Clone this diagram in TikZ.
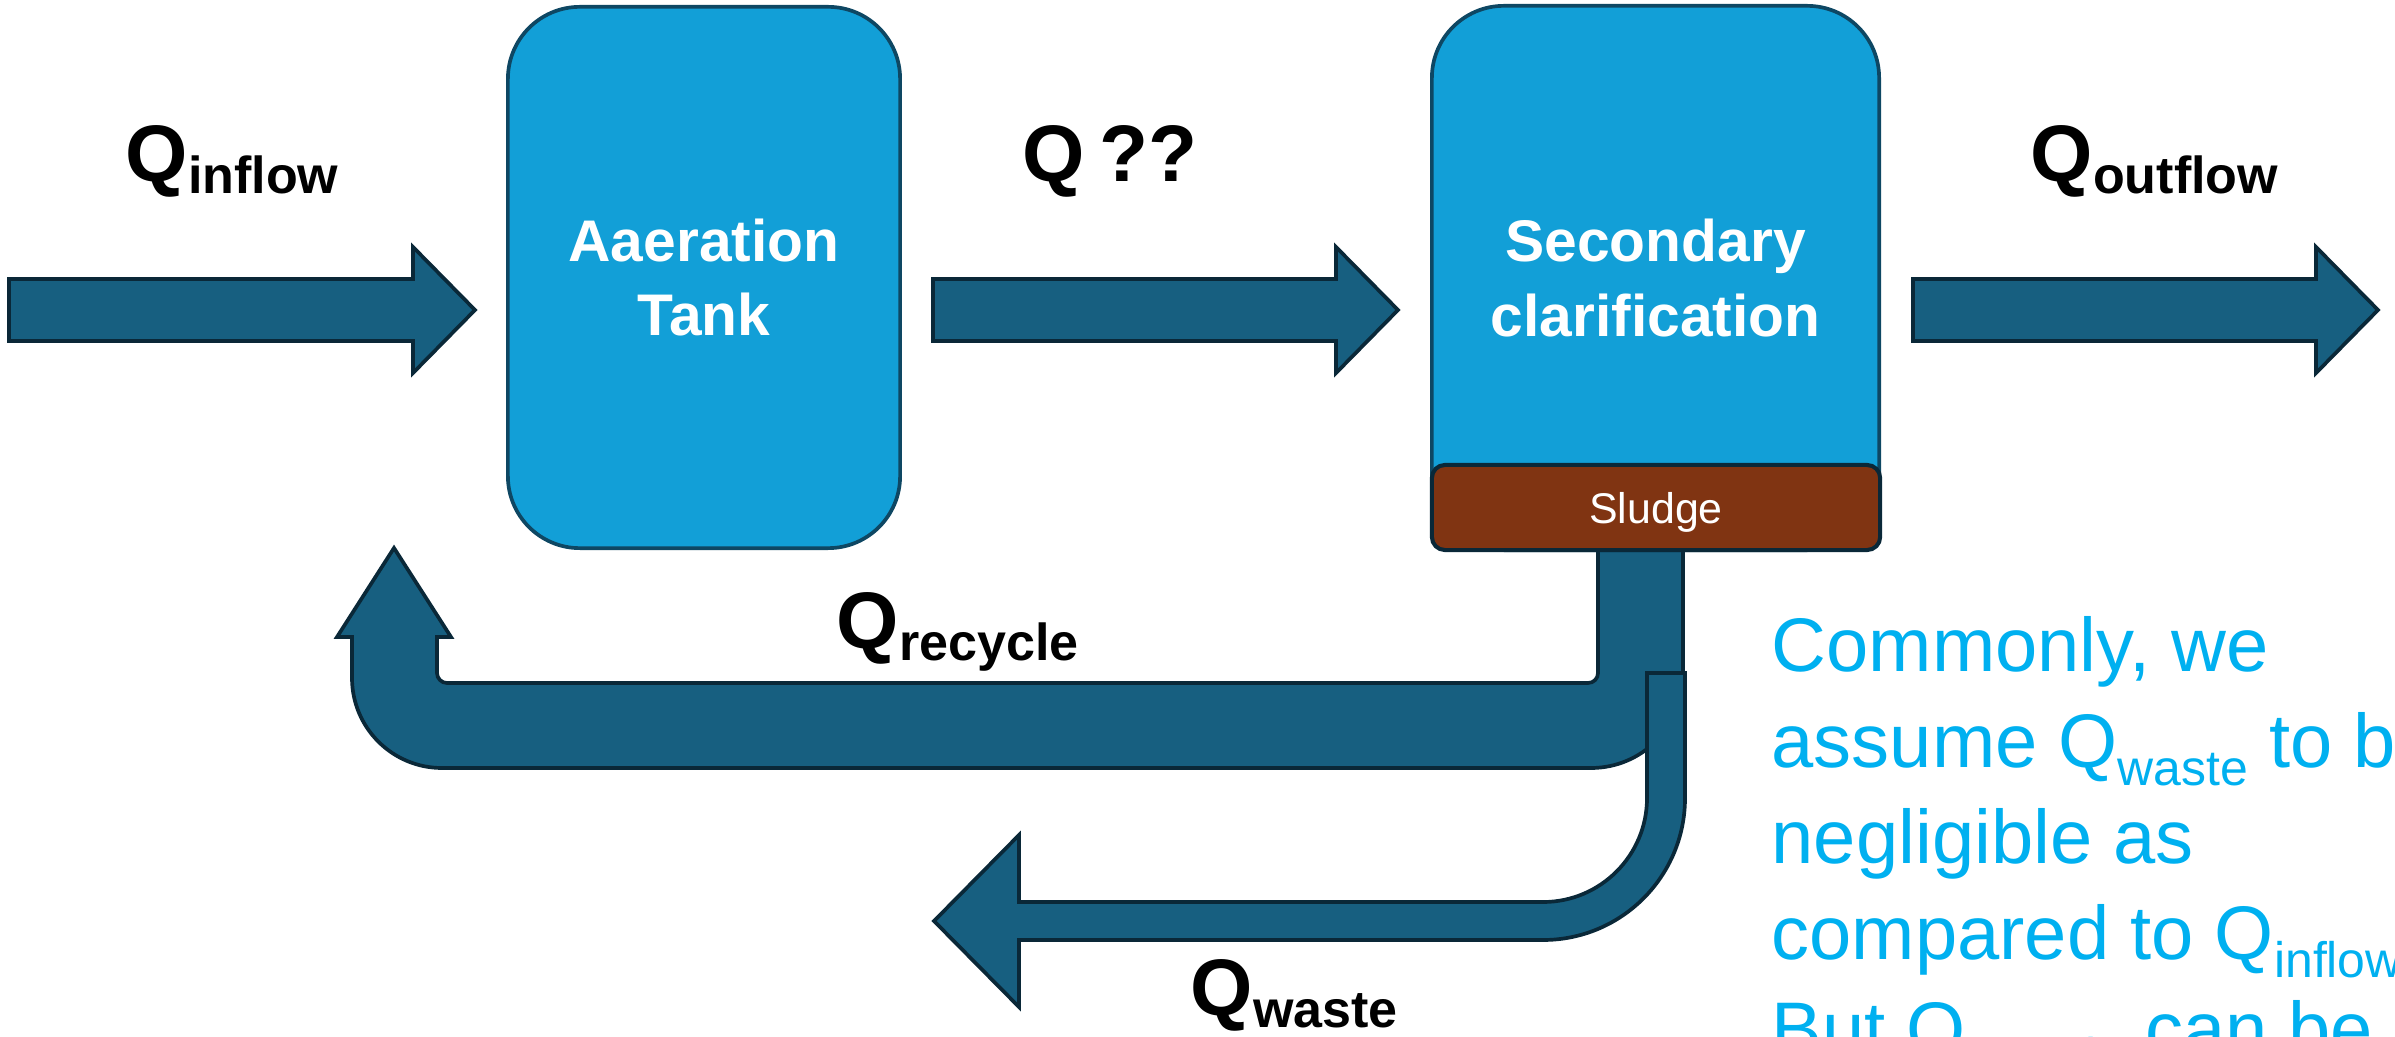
\documentclass[tikz,border=0pt]{standalone}
\usepackage{fontspec}
\setmainfont{Liberation Sans}
\definecolor{boxfill}{HTML}{129FD7}
\definecolor{boxline}{HTML}{0E4763}
\definecolor{arrfill}{HTML}{175F80}
\definecolor{arrline}{HTML}{0A2838}
\definecolor{sludgefill}{HTML}{803412}
\definecolor{notecol}{HTML}{00B0F0}
\newcommand\tkBoxFont{\fontsize{16.7}{21.3}\selectfont\bfseries}
\newcommand\tkSludgeFont{\fontsize{12.2}{14}\selectfont}
\newcommand\tkQFont{\fontsize{22.8}{27}\selectfont\bfseries}
\newcommand\tkNoteFont{\fontsize{21.6}{27}\selectfont}
\newcommand\tkQsub[1]{Q\raisebox{-0.12cm}{\fontsize{14.8}{17}\selectfont #1}}
\newcommand\tkNsub[1]{Q\raisebox{-0.18cm}{\fontsize{14.2}{17}\selectfont #1}}
\tikzset{
  tank/.style={draw=boxline, fill=boxfill, line width=1.05pt, rounded corners=0.72cm,
    text=white, align=center, font=\tkBoxFont, inner sep=0pt},
  sludgebox/.style={draw=arrline, fill=sludgefill, line width=1.15pt, rounded corners=0.13cm,
    text=white, font=\tkSludgeFont, inner sep=0pt, text depth=0pt},
  blockarrow/.style={draw=arrline, fill=arrfill, line width=1.05pt, line join=miter},
  qlabel/.style={anchor=base west, inner sep=0pt, font=\tkQFont},
  noteline/.style={anchor=base west, inner sep=0pt, text=notecol, font=\tkNoteFont},
}
\begin{document}
\begin{tikzpicture}[x=0.01cm,y=-0.01cm]
\useasboundingbox (0,0) rectangle (2395,1037);
\clip (0,0) rectangle (2395,1037);

% recycle U-turn arrow
\draw[blockarrow]
  (1683,540) -- (1683,676)
  .. controls (1683,726.8) and (1641.8,768) .. (1591,768)
  -- (442,768)
  .. controls (392.3,768) and (352,727.7) .. (352,678)
  -- (352,637) -- (337,637) -- (394,548) -- (451,637) -- (437,637)
  -- (437,673)
  .. controls (437,678.5) and (441.5,683) .. (447,683)
  -- (1588,683)
  .. controls (1593.5,683) and (1598,678.5) .. (1598,673)
  -- (1598,540) -- cycle;

% waste bent arrow
\draw[blockarrow]
  (1647,673) -- (1685,673) -- (1685,798)
  .. controls (1685,876.4) and (1621.4,940) .. (1543,940)
  -- (1019,940) -- (1019,1007) -- (934,921) -- (1019,835) -- (1019,902)
  -- (1543,902)
  .. controls (1600.4,902) and (1647,855.4) .. (1647,798)
  -- cycle;

% straight block arrows
\draw[blockarrow] (9,279) -- (413,279) -- (413,247) -- (475,310) -- (413,373) -- (413,341) -- (9,341) -- cycle;
\draw[blockarrow] (933,279) -- (1336,279) -- (1336,247) -- (1398,310) -- (1336,373) -- (1336,341) -- (933,341) -- cycle;
\draw[blockarrow] (1913,279) -- (2316,279) -- (2316,247) -- (2378,310) -- (2316,373) -- (2316,341) -- (1913,341) -- cycle;

% tanks
\node[tank, minimum width=3.92cm, minimum height=5.41cm] (aer) at (704,277.5) {Aaeration\\Tank};
\node[tank, minimum width=4.47cm, minimum height=5.44cm] (clar) at (1655.5,278) {Secondary\\clarification};
\node[sludgebox, minimum width=4.48cm, minimum height=0.85cm] (sludge) at (1656,507.5) {Sludge};

% flow labels
\node[qlabel] (qin) at (125,182) {\tkQsub{inflow}};
\node[qlabel] (qmid) at (1022,182) {Q\hspace{0.14cm}??};
\node[qlabel] (qout) at (2030,182) {\tkQsub{outflow}};
\node[qlabel] (qrec) at (836,648) {\tkQsub{recycle}};
\node[qlabel] (qwaste) at (1190,1015) {\tkQsub{waste}};

% note
\node[noteline] (n1) at (1771,671) {Commonly, we};
\node[noteline] (n2) at (1771,767) {assume \tkNsub{waste} to be};
\node[noteline] (n3) at (1771,863) {negligible as};
\node[noteline] (n4) at (1771,959) {compared to \tkNsub{inflow}.};
\node[noteline] (n5) at (1771,1055) {But \tkNsub{recycle} can be};
\end{tikzpicture}
\end{document}
